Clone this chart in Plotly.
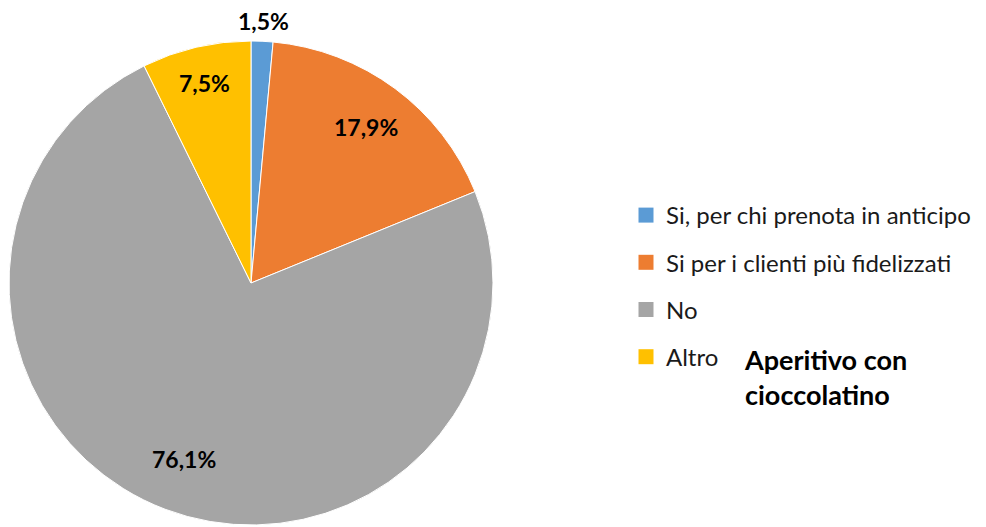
import math
import plotly.graph_objects as go

categories = ["Si, per chi prenota in anticipo", "Si per i clienti più fidelizzati", "No", "Altro"]
values = [1.5, 17.9, 76.1, 7.5]
value_labels = ["1,5%", "17,9%", "76,1%", "7,5%"]
colors = ["#5B9BD5", "#ED7D31", "#A5A5A5", "#FFC000"]
label_radius = [1.085, 0.80, 0.78, 0.85]
title_text = "Aperitivo con<br>cioccolatino"

W, H = 986, 527
cx, cy, R = 251, 283, 242  # pie geometry in pixels (from top-left)
FONT = "Lato, Open Sans, sans-serif"

fig = go.Figure()
fig.add_trace(go.Pie(
    values=values,
    labels=categories,
    marker=dict(colors=colors, line=dict(color="white", width=1)),
    sort=False,
    direction="clockwise",
    rotation=0,
    textinfo="none",
    hoverinfo="label+value",
    showlegend=False,
    domain=dict(x=[(cx - R) / W, (cx + R) / W], y=[1 - (cy + R) / H, 1 - (cy - R) / H]),
))

# data labels placed at the slice mid-angles
total = sum(values)
cum = 0.0
for v, lab, rf in zip(values, value_labels, label_radius):
    theta = 2 * math.pi * (cum + v / 2) / total
    cum += v
    px = cx + rf * R * math.sin(theta)
    py = cy - rf * R * math.cos(theta)
    fig.add_annotation(x=px / W, y=1 - py / H, xref="paper", yref="paper",
                       xanchor="center", yanchor="middle",
                       text=f"<b>{lab}</b>", showarrow=False,
                       font=dict(family=FONT, size=23, color="black"))

# legend entries
for name, col in zip(categories, colors):
    fig.add_trace(go.Scatter(x=[None], y=[None], mode="markers", name=name,
                             legendgroup=name,
                             marker=dict(symbol="square", size=15, color=col)))

fig.add_annotation(x=742 / W, y=1 - 341 / H, xref="paper", yref="paper",
                   xanchor="left", yanchor="top", align="left",
                   text=f"<b>{title_text}</b>", showarrow=False,
                   font=dict(family=FONT, size=27, color="black"))

fig.update_layout(
    width=W, height=H,
    margin=dict(l=0, r=0, t=0, b=0),
    paper_bgcolor="white", plot_bgcolor="white",
    xaxis=dict(visible=False), yaxis=dict(visible=False),
    legend=dict(x=626 / W, y=1 - 193 / H, xanchor="left", yanchor="top",
                tracegroupgap=13, itemwidth=30,
                font=dict(family=FONT, size=24, color="#1a1a1a"),
                bgcolor="rgba(0,0,0,0)"),
)

fig.write_html("out.html")
